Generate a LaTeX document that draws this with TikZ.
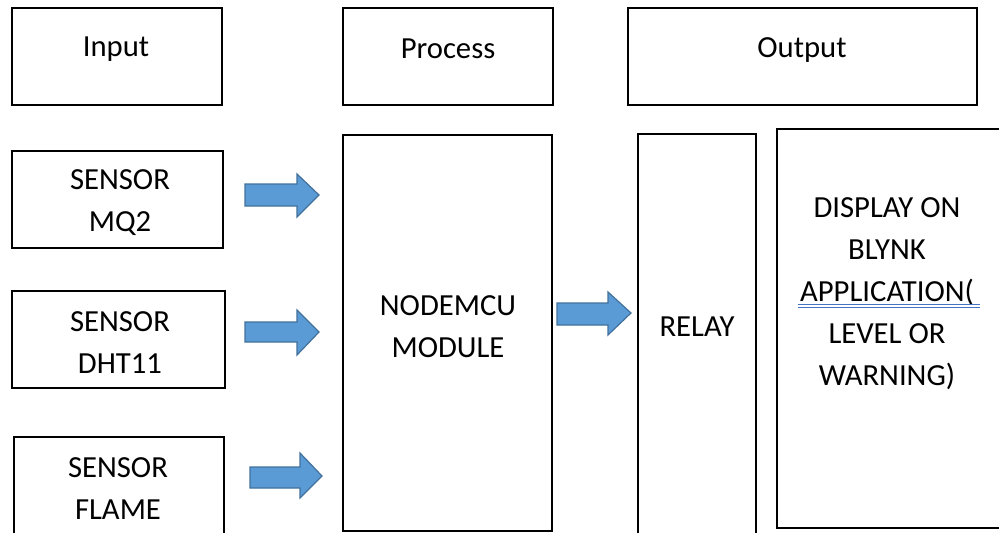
\documentclass[tikz,border=0pt]{standalone}
\usepackage{fontspec}
\setmainfont{Carlito}
\tikzset{
  px/.style={x=0.75pt,y=-0.75pt},
  box/.style={draw=black,line width=1.5pt,fill=white,inner sep=0pt},
  lbl/.style={font=\fontsize{23}{31.5}\selectfont,align=center,inner sep=0pt,text=black},
  blockarrow/.style={fill=arrowfill,draw=arrowedge,line width=0.9pt,line join=miter},
}
\definecolor{arrowfill}{HTML}{5B9BD5}
\definecolor{arrowedge}{HTML}{41719C}
\definecolor{spellblue}{HTML}{4472C4}
\begin{document}
\begin{tikzpicture}[px]
\useasboundingbox (0,0) rectangle (999,532);
\fill[white] (0,0) rectangle (999,532);
% header boxes
\node[box,minimum width=157.5pt,minimum height=72.75pt] (inbox) at (116.5,56.5) {};
\node[lbl] (intext) at (116,49) {Input};
\node[box,minimum width=157.5pt,minimum height=72.75pt] (procbox) at (448,56.5) {};
\node[lbl] (proctext) at (448,49) {Process};
\node[box,minimum width=261.75pt,minimum height=72.75pt] (outbox) at (802.5,56.5) {};
\node[lbl] (outtext) at (802,50) {Output};
% sensor boxes
\node[box,minimum width=158.25pt,minimum height=72.75pt] (mq2) at (117.5,199.5) {};
\node[lbl] (mq2t) at (120,203) {SENSOR\\MQ2};
\node[box,minimum width=159.75pt,minimum height=72.75pt] (dht) at (118.5,339.5) {};
\node[lbl] (dhtt) at (120,343) {SENSOR\\DHT11};
\node[box,minimum width=157.5pt,minimum height=75pt] (flame) at (119,487) {};
\node[lbl] (flamet) at (118,489) {SENSOR\\FLAME};
% process
\node[box,minimum width=156.75pt,minimum height=297pt] (mcu) at (447.5,333) {};
\node[lbl] (mcut) at (448,327) {NODEMCU\\MODULE};
% output
\node[box,minimum width=88.5pt,minimum height=301.5pt] (relay) at (697,335) {};
\node[lbl] (relayt) at (697,327) {RELAY};
\node[box,minimum width=171pt,minimum height=299.25pt] (disp) at (891,328.5) {};
\node[lbl] (dispt) at (887,294) {DISPLAY ON\\BLYNK\\APPLICATION(\\LEVEL OR\\WARNING)};
\draw[spellblue,line width=0.6pt] (798,304) -- (980,304) (798,307) -- (980,307);
% block arrows
\draw[blockarrow] (245,184) -- (297,184) -- (297,174) -- (319,195) -- (297,217) -- (297,206) -- (245,206) -- cycle;
\draw[blockarrow] (245,322) -- (297,322) -- (297,310) -- (319,332) -- (297,355) -- (297,342) -- (245,342) -- cycle;
\draw[blockarrow] (250,467) -- (300,467) -- (300,453) -- (322,476) -- (300,498) -- (300,488) -- (250,488) -- cycle;
\draw[blockarrow] (557,303) -- (608,303) -- (608,292) -- (631,313) -- (608,335) -- (608,325) -- (557,325) -- cycle;
\end{tikzpicture}
\end{document}
